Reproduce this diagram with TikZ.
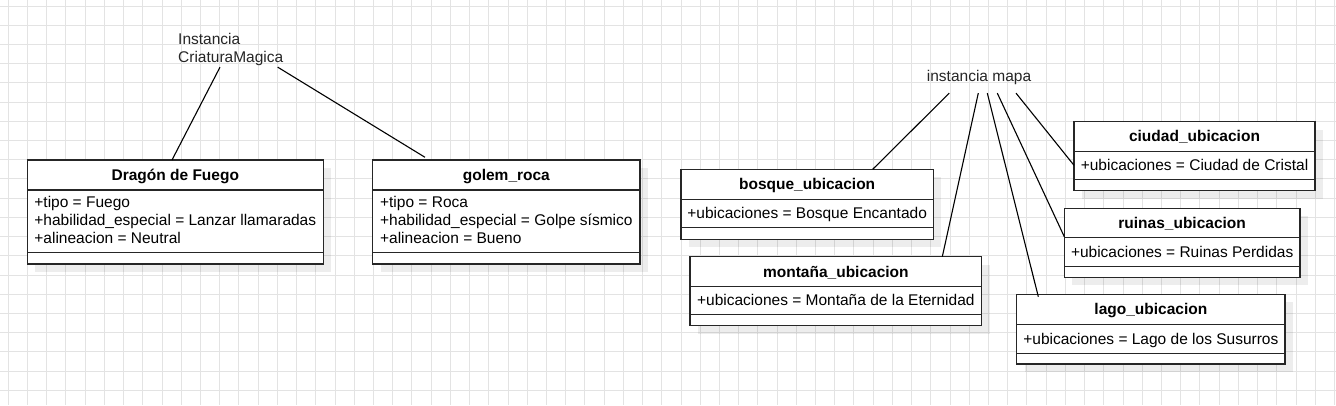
\documentclass[tikz,border=0pt]{standalone}
\usepackage{fontspec}
\setmainfont{Liberation Sans}
\usetikzlibrary{positioning,shadows}
\definecolor{gridgray}{HTML}{E3E3E3}
\newcommand{\fstrut}{\rule[-0.212em]{0pt}{1.117em}}
\begin{document}
\begin{tikzpicture}[x=1pt,y=-1pt,
  every node/.style={font=\fontsize{15.5}{18}\selectfont},
  gridline/.style={draw=gridgray, line width=1pt},
  box/.style={draw=black!85, line width=1.3pt, fill=white, outer sep=0pt, inner sep=0pt,
    drop shadow={shadow xshift=8pt, shadow yshift=-8pt, opacity=0.07, fill=black}},
  ctitle/.style={box, font=\fontsize{15.5}{18}\selectfont\bfseries, minimum height=30pt,
    anchor=north west, execute at begin node=\fstrut},
  cbody/.style={box, align=left, anchor=north,
    execute at begin node=\fstrut, execute at end node=\fstrut},
  cfoot/.style={box, minimum height=11.5pt, anchor=north},
  inst/.style={inner sep=0pt, text=black!85},
  link/.style={draw=black, line width=1.1pt}]
    \useasboundingbox (0,0) rectangle (1336,405);
    \fill[white] (0,0) rectangle (1336,405);
    % grid
    \foreach \gx in {0,...,69} \draw[gridline] (8.3+19.22*\gx,0) -- (8.3+19.22*\gx,405);
    \foreach \gy in {0,...,20} \draw[gridline] (0,6+19.22*\gy) -- (1336,6+19.22*\gy);

    \node[inst, align=left, anchor=north west] (criatura) at (178,32.9) {Instancia\\CriaturaMagica};
    \node[inst, anchor=base west] (mapa) at (926.7,81.7) {instancia mapa};

    \node[ctitle, minimum width=296pt] (dragon) at (27.3,160) {Dragón de Fuego};
    \node[cbody, minimum width=296pt, minimum height=62.6pt, below=0pt of dragon] (dragon-b)
      {+tipo = Fuego\\+habilidad\_especial = Lanzar llamaradas\\+alineacion = Neutral};
    \node[cfoot, minimum width=296pt, below=0pt of dragon-b] (dragon-f) {};

    \node[ctitle, minimum width=267.3pt] (golem) at (372.7,160) {golem\_roca};
    \node[cbody, minimum width=267.3pt, minimum height=62.6pt, below=0pt of golem] (golem-b)
      {+tipo = Roca\\+habilidad\_especial = Golpe sísmico\\+alineacion = Bueno};
    \node[cfoot, minimum width=267.3pt, below=0pt of golem-b] (golem-f) {};

    \node[ctitle, minimum width=252.3pt] (bosque) at (681,169.3) {bosque\_ubicacion};
    \node[cbody, minimum width=252.3pt, minimum height=28.4pt, below=0pt of bosque] (bosque-b)
      {+ubicaciones = Bosque Encantado};
    \node[cfoot, minimum width=252.3pt, below=0pt of bosque-b] (bosque-f) {};

    \node[ctitle, minimum width=291.7pt] (montana) at (690,256.7) {montaña\_ubicacion};
    \node[cbody, minimum width=291.7pt, minimum height=27.6pt, below=0pt of montana] (montana-b)
      {+ubicaciones = Montaña de la Eternidad};
    \node[cfoot, minimum width=291.7pt, below=0pt of montana-b] (montana-f) {};

    \node[ctitle, minimum width=241pt, minimum height=29.6pt] (ciudad) at (1074,121.7) {ciudad\_ubicacion};
    \node[cbody, minimum width=241pt, minimum height=28pt, below=0pt of ciudad] (ciudad-b)
      {+ubicaciones = Ciudad de Cristal};
    \node[cfoot, minimum width=241pt, below=0pt of ciudad-b] (ciudad-f) {};

    \node[ctitle, minimum width=235.7pt, minimum height=29.4pt] (ruinas) at (1064.3,208.3) {ruinas\_ubicacion};
    \node[cbody, minimum width=235.7pt, minimum height=29pt, below=0pt of ruinas] (ruinas-b)
      {+ubicaciones = Ruinas Perdidas};
    \node[cfoot, minimum width=235.7pt, minimum height=10.6pt, below=0pt of ruinas-b] (ruinas-f) {};

    \node[ctitle, minimum width=268.3pt] (lago) at (1016.7,294.3) {lago\_ubicacion};
    \node[cbody, minimum width=268.3pt, minimum height=29pt, below=0pt of lago] (lago-b)
      {+ubicaciones = Lago de los Susurros};
    \node[cfoot, minimum width=268.3pt, minimum height=10.7pt, below=0pt of lago-b] (lago-f) {};

    \draw[link] ([xshift=42pt,yshift=-1.4pt]criatura.south west) -- ([xshift=-3.3pt]dragon.north);
    \draw[link] ([xshift=99.7pt,yshift=-1.4pt]criatura.south west) -- ([xshift=52.3pt,yshift=2.7pt]golem.north west);
    \draw[link] ([xshift=22.6pt,yshift=-8pt]mapa.south west) -- ([xshift=191.7pt]bosque.north west);
    \draw[link] ([xshift=51.6pt,yshift=-8pt]mapa.south west) -- ([xshift=252.3pt]montana.north west);
    \draw[link] ([xshift=60.6pt,yshift=-8pt]mapa.south west) -- ([xshift=21.6pt,yshift=-2.4pt]lago.north west);
    \draw[link] ([xshift=70.6pt,yshift=-8pt]mapa.south west) -- ([yshift=1pt]ruinas.south west);
    \draw[link] ([xshift=89.3pt,yshift=-8pt]mapa.south west) -- (ciudad-b.west);
\end{tikzpicture}
\end{document}
